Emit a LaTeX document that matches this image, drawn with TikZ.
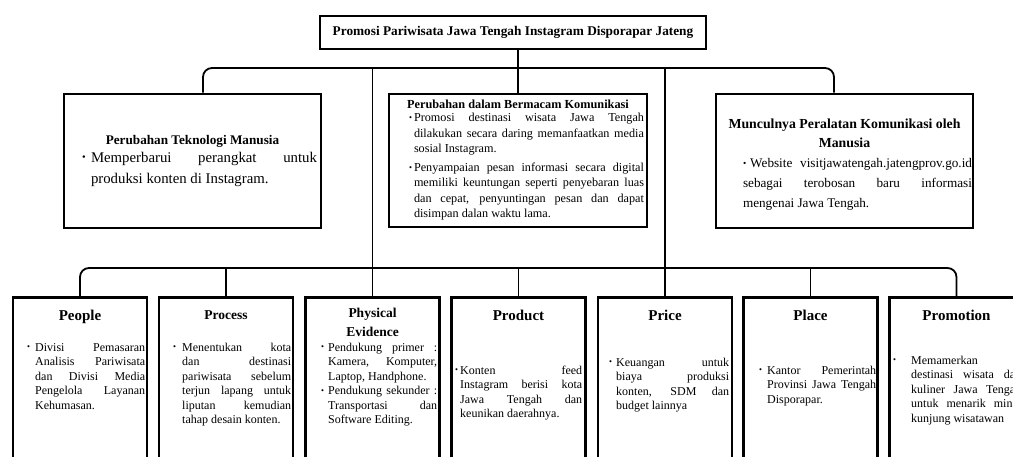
\documentclass[tikz,border=0pt]{standalone}
\usepackage{fontspec}
\setmainfont{Liberation Serif}

\tolerance=10000
\hbadness=10000
\hyphenpenalty=10000
\exhyphenpenalty=10000

% маркер списка
\newcommand{\titik}{\raisebox{0.12em}{\scalebox{0.7}{\textbullet}}}
\newcommand{\butir}[1][8pt]{\hangindent=#1\hangafter=1\noindent\makebox[#1][l]{\titik}\ignorespaces}

\tikzset{
  kotak/.style={draw, line width=2.8pt, inner sep=0pt},
  garis/.style={line width=1.8pt, rounded corners=9pt},
  judulbawah/.style={anchor=base, inner sep=0pt, font=\bfseries\fontsize{15}{18}\selectfont},
  isibawah/.style={anchor=base west, inner sep=0pt, align=justify, font=\fontsize{12}{14.5}\selectfont},
}

\begin{document}
\begin{tikzpicture}[x=1pt, y=-1pt]
  \useasboundingbox (0,0) rectangle (1013,456);
  \clip (0,0) rectangle (1013,456);

  % Заголовок
  \node[kotak, minimum width=386pt, minimum height=33pt,
        font=\bfseries\fontsize{13.3}{16}\selectfont] (judul) at (513,32.5)
    {Promosi Pariwisata Jawa Tengah Instagram Disporapar Jateng};

  % Верхние блоки
  \node[kotak, minimum width=257pt, minimum height=134pt, text width=249pt, align=justify]
    (teknologi) at (192.5,161) {%
    {\centering\bfseries\fontsize{13.2}{16}\selectfont Perubahan Teknologi Manusia\par}
    \fontsize{14.8}{21}\selectfont\leftskip=14pt
    \vspace{-3pt}
    \butir[9pt] Memperbarui perangkat untuk\linebreak produksi konten di Instagram.\par};

  \node[kotak, minimum width=258pt, minimum height=133pt, text width=252pt, align=justify]
    (komunikasi) at (518,160.5) {%
    {\centering\bfseries\fontsize{12.3}{15}\selectfont Perubahan dalam Bermacam Komunikasi\par}
    \fontsize{12.2}{15.5}\selectfont\leftskip=17pt
    \vspace{-2.5pt}
    \butir[5pt] Promosi destinasi wisata Jawa Tengah\linebreak dilakukan secara daring memanfaatkan media\linebreak sosial Instagram.
    \par\vspace{3pt}
    \butir[5pt] Penyampaian pesan informasi secara digital\linebreak memiliki keuntungan seperti penyebaran luas\linebreak dan cepat, penyuntingan pesan dan dapat\linebreak disimpan dalan waktu lama.\par};

  \node[kotak, minimum width=257pt, minimum height=134pt, text width=255pt, align=justify]
    (alat) at (844.5,161) {%
    {\centering\bfseries\fontsize{13.8}{19}\selectfont\rule{0pt}{17.5pt}Munculnya Peralatan Komunikasi oleh\par Manusia\par}
    \fontsize{13.2}{20}\selectfont\leftskip=26pt
    \noindent\titik\hspace{4pt}Website visitjawatengah.jatengprov.go.id\linebreak sebagai terobosan baru informasi\linebreak mengenai Jawa Tengah.\par};

  % Нижние блоки
  \foreach \nama/\cx in {people/80,proses/226,fisik/372.5,produk/518.5,harga/665,tempat/810.5,promosi/956.5}
    \node[kotak, minimum width=134pt, minimum height=180pt, anchor=north] (\nama) at (\cx,296) {};

  \node[judulbawah] (j-people) at (80,320) {People};
  \node[isibawah, text width=118pt] (i-people) at (27,351)
    {\butir Divisi Pemasaran\linebreak Analisis Pariwisata\linebreak dan Divisi Media\linebreak Pengelola Layanan\linebreak Kehumasan.\par};

  \node[judulbawah, font=\bfseries\fontsize{13.5}{18}\selectfont] (j-proses) at (226,319.5) {Process};
  \node[isibawah, text width=118pt] (i-proses) at (173,351)
    {\butir[9pt] Menentukan kota\linebreak dan destinasi\linebreak pariwisata sebelum\linebreak terjun lapang untuk\linebreak liputan kemudian\linebreak tahap desain konten.\par};

  \node[judulbawah, font=\bfseries\fontsize{13.5}{19}\selectfont, text width=130pt, align=center]
    (j-fisik) at (372.5,317.5) {Physical\\Evidence};
  \node[isibawah, text width=116pt] (i-fisik) at (321,351)
    {\butir[7pt] Pendukung primer :\linebreak Kamera, Komputer,\linebreak Laptop, Handphone.
     \par\butir[7pt] Pendukung sekunder :\linebreak Transportasi dan\linebreak Software Editing.\par};

  \node[judulbawah] (j-produk) at (518.5,320) {Product};
  \node[isibawah, text width=127pt] (i-produk) at (455,374)
    {\butir[5pt] Konten feed\linebreak Instagram berisi kota\linebreak Jawa Tengah dan\linebreak keunikan daerahnya.\par};

  \node[judulbawah] (j-harga) at (665,320) {Price};
  \node[isibawah, text width=120pt] (i-harga) at (609,366)
    {\butir[7pt] Keuangan untuk\linebreak biaya produksi\linebreak konten, SDM dan\linebreak budget lainnya\par};

  \node[judulbawah] (j-tempat) at (810.5,320) {Place};
  \node[isibawah, text width=117pt] (i-tempat) at (759,374)
    {\butir Kantor Pemerintah\linebreak Provinsi Jawa Tengah\linebreak Disporapar.\par};

  \node[judulbawah] (j-promosi) at (956.5,320) {Promotion};
  \node[isibawah, text width=128pt] (i-promosi) at (893,364)
    {\butir[18pt] Memamerkan\hfil\break destinasi wisata dan\linebreak kuliner Jawa Tengah\linebreak untuk menarik minat\linebreak kunjung wisatawan\par};

  % Соединительные линии
  \coordinate (busatas) at (0,68);
  \coordinate (busbawah) at (0,268);
  \coordinate (kaki-kiri) at ([xshift=10.5pt]teknologi.north);
  \coordinate (kaki-kanan) at ([xshift=-10.5pt]alat.north);
  \draw[garis] (kaki-kiri) |- (busatas -| kaki-kanan) -- (kaki-kanan);
  \draw[garis] (judul.south -| komunikasi.north) -- (komunikasi.north);
  \draw[garis] (busatas -| fisik.north) -- (fisik.north);
  \draw[garis] (busatas -| harga.north) -- (harga.north);
  \draw[garis] (people.north) |- (busbawah -| promosi.north) -- (promosi.north);
  \foreach \nama in {proses,produk,tempat}
    \draw[garis] (busbawah -| \nama.north) -- (\nama.north);
\end{tikzpicture}
\end{document}
